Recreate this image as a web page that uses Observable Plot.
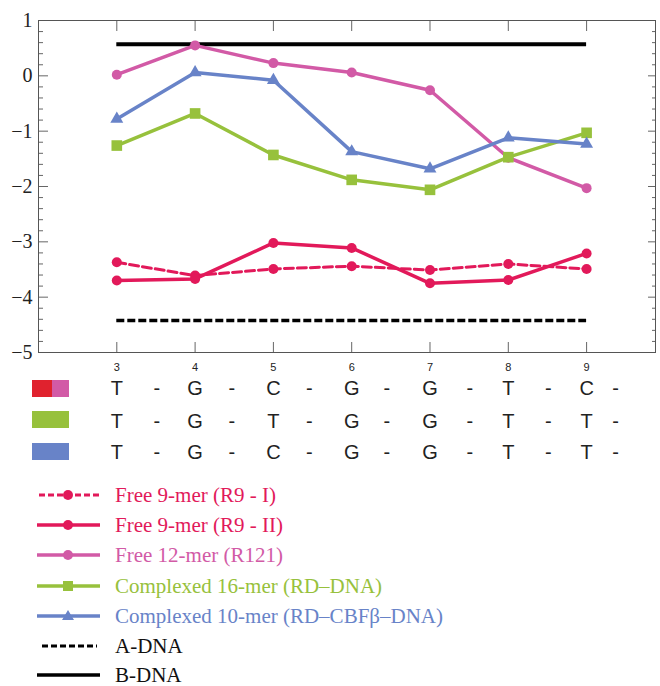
<!DOCTYPE html>
<html><head><meta charset="utf-8">
<script src="https://cdn.jsdelivr.net/npm/d3@7"></script>
<script src="https://cdn.jsdelivr.net/npm/@observablehq/plot@0.6"></script>
<style>
body{margin:0;background:#fff;}
#wrap{position:relative;width:660px;height:686px;overflow:hidden;background:#fff;}
.sw{position:absolute;height:17px;}
.leg{position:absolute;left:37px;height:18px;line-height:18px;display:flex;align-items:center;font-family:"Liberation Serif","Times New Roman",serif;font-size:21px;white-space:nowrap;}
.leg svg{margin-right:14px;flex:none;}
</style></head><body><div id="wrap"></div>
<script>
// ---- data ----
const positions = [3, 4, 5, 6, 7, 8, 9];
const r9I   = [-3.37, -3.61, -3.49, -3.44, -3.51, -3.40, -3.49];
const r9II  = [-3.70, -3.67, -3.02, -3.11, -3.75, -3.69, -3.21];
const r121  = [0.02, 0.55, 0.23, 0.06, -0.26, -1.48, -2.03];
const rd16  = [-1.26, -0.68, -1.43, -1.88, -2.06, -1.47, -1.03];
const cbf10 = [-0.78, 0.06, -0.08, -1.37, -1.68, -1.12, -1.23];
const aDNA = -4.42;
const bDNA = 0.57;
const yMajor = [1, 0, -1, -2, -3, -4, -5];
const seqR9  = ["T", "G", "C", "G", "G", "T", "C"];
const seqRD  = ["T", "G", "T", "G", "G", "T", "T"];
const seqCBF = ["T", "G", "C", "G", "G", "T", "T"];
const dashPos = [3.51, 4.47, 5.46, 6.45, 7.51, 8.51, 9.37];
const legendLabels = ["Free 9-mer (R9 - I)", "Free 9-mer (R9 - II)", "Free 12-mer (R121)",
  "Complexed 16-mer (RD\u2013DNA)", "Complexed 10-mer (RD\u2013CBF\u03b2\u2013DNA)", "A-DNA", "B-DNA"];

const C = {red: "#e2195a", pink: "#d25aa6", green: "#97c13c", blue: "#6883c8"};
const yMinor = d3.range(-25, 6).map(i => i / 5).filter(v => !Number.isInteger(v));
const tbl = vals => positions.map((p, i) => ({x: p, y: vals[i]}));
const fmt = d => d < 0 ? "\u2212" + Math.abs(d) : String(d);
const seqRow = (letters, dy) => [
  Plot.text(positions, {x: d => d, text: (d, i) => letters[i], frameAnchor: "bottom", lineAnchor: "middle", dy, fontSize: 20, fontFamily: "Liberation Sans", fill: "#222"}),
  Plot.text(dashPos, {x: d => d, text: () => "-", frameAnchor: "bottom", lineAnchor: "middle", dy, fontSize: 20, fontFamily: "Liberation Sans", fill: "#222"})
];

const plot = Plot.plot({
  width: 660, height: 470,
  marginLeft: 38, marginRight: 5, marginTop: 20, marginBottom: 118,
  x: {domain: [2, 9.88]},
  y: {domain: [-5, 1]},
  style: {background: "white", overflow: "visible"},
  marks: [
    Plot.axisY({anchor: "left", ticks: yMajor, tickSize: -10, fill: "none", stroke: "#666", label: null}),
    Plot.axisY({anchor: "left", ticks: yMinor, tickSize: -5, fill: "none", stroke: "#666", label: null}),
    Plot.axisY({anchor: "right", ticks: yMajor, tickSize: -8, fill: "none", stroke: "#666", label: null}),
    Plot.axisY({anchor: "right", ticks: yMinor, tickSize: -4, fill: "none", stroke: "#666", label: null}),
    Plot.axisY({anchor: "left", ticks: yMajor, tickSize: 0, tickPadding: 6, tickFormat: fmt, fontSize: 20, fontFamily: "Liberation Serif", fill: "#222", label: null}),
    Plot.axisX({anchor: "top", ticks: positions, tickSize: -10, fill: "none", stroke: "#666", label: null}),
    Plot.axisX({anchor: "bottom", ticks: positions, tickSize: -10, fill: "none", stroke: "#666", label: null}),
    Plot.axisX({anchor: "bottom", ticks: positions, tickSize: 0, tickPadding: 11, fontSize: 11, fontFamily: "Liberation Sans", fill: "#222", label: null}),
    Plot.frame({stroke: "#555"}),
    Plot.ruleY([bDNA], {x1: 3, x2: 9, stroke: "black", strokeWidth: 4}),
    Plot.ruleY([aDNA], {x1: 3, x2: 9, stroke: "black", strokeWidth: 3.5, strokeDasharray: "8,3"}),
    Plot.line(tbl(r9I), {x: "x", y: "y", stroke: C.red, strokeWidth: 3, strokeDasharray: "9,4"}),
    Plot.dot(tbl(r9I), {x: "x", y: "y", fill: C.red, r: 5}),
    Plot.line(tbl(r9II), {x: "x", y: "y", stroke: C.red, strokeWidth: 3.5}),
    Plot.dot(tbl(r9II), {x: "x", y: "y", fill: C.red, r: 5}),
    Plot.line(tbl(r121), {x: "x", y: "y", stroke: C.pink, strokeWidth: 3.5}),
    Plot.dot(tbl(r121), {x: "x", y: "y", fill: C.pink, r: 5}),
    Plot.line(tbl(rd16), {x: "x", y: "y", stroke: C.green, strokeWidth: 3.5}),
    Plot.dot(tbl(rd16), {x: "x", y: "y", fill: C.green, r: 6, symbol: "square"}),
    Plot.line(tbl(cbf10), {x: "x", y: "y", stroke: C.blue, strokeWidth: 3.5}),
    Plot.dot(tbl(cbf10), {x: "x", y: "y", fill: C.blue, r: 4.8, symbol: "triangle"}),
    ...seqRow(seqR9, 36),
    ...seqRow(seqRD, 69),
    ...seqRow(seqCBF, 100)
  ]
});

const wrap = document.getElementById("wrap");
wrap.appendChild(plot);

// row swatches
const swatches = [
  {top: 380, parts: [["#e0222e", 32, 20], [C.pink, 52, 17]]},
  {top: 411, parts: [[C.green, 32, 37]]},
  {top: 443, parts: [[C.blue, 32, 37]]}
];
for (const s of swatches) for (const [col, left, w] of s.parts) {
  const d = document.createElement("div");
  d.className = "sw";
  d.style.cssText = `top:${s.top}px;left:${left}px;width:${w}px;background:${col};`;
  wrap.appendChild(d);
}

// legend
const circle = c => `<circle cx="31" cy="9" r="5" fill="${c}"/>`;
const legendSamples = [
  `<line x1="2" x2="62" y1="9" y2="9" stroke="${C.red}" stroke-width="3" stroke-dasharray="6,3"/>` + circle(C.red),
  `<line x1="0" x2="63" y1="9" y2="9" stroke="${C.red}" stroke-width="3.5"/>` + circle(C.red),
  `<line x1="0" x2="63" y1="9" y2="9" stroke="${C.pink}" stroke-width="3.5"/>` + circle(C.pink),
  `<line x1="0" x2="63" y1="9" y2="9" stroke="${C.green}" stroke-width="3.5"/><rect x="26" y="4" width="10" height="10" fill="${C.green}"/>`,
  `<line x1="0" x2="63" y1="9" y2="9" stroke="${C.blue}" stroke-width="3.5"/><path d="M31,3 L37,13 L25,13 Z" fill="${C.blue}"/>`,
  `<line x1="5" x2="60" y1="9" y2="9" stroke="black" stroke-width="3" stroke-dasharray="6,3"/>`,
  `<line x1="0" x2="63" y1="9" y2="9" stroke="black" stroke-width="3.5"/>`
];
const legendColors = [C.red, C.red, C.pink, C.green, C.blue, "#111", "#111"];
const legendY = [495, 525, 555, 586, 616, 646, 675];
legendLabels.forEach((lab, i) => {
  const row = document.createElement("div");
  row.className = "leg";
  row.style.top = (legendY[i] - 9) + "px";
  row.style.color = legendColors[i];
  row.innerHTML = `<svg width="64" height="18">${legendSamples[i]}</svg><span></span>`;
  row.querySelector("span").textContent = lab;
  wrap.appendChild(row);
});
</script></body></html>
